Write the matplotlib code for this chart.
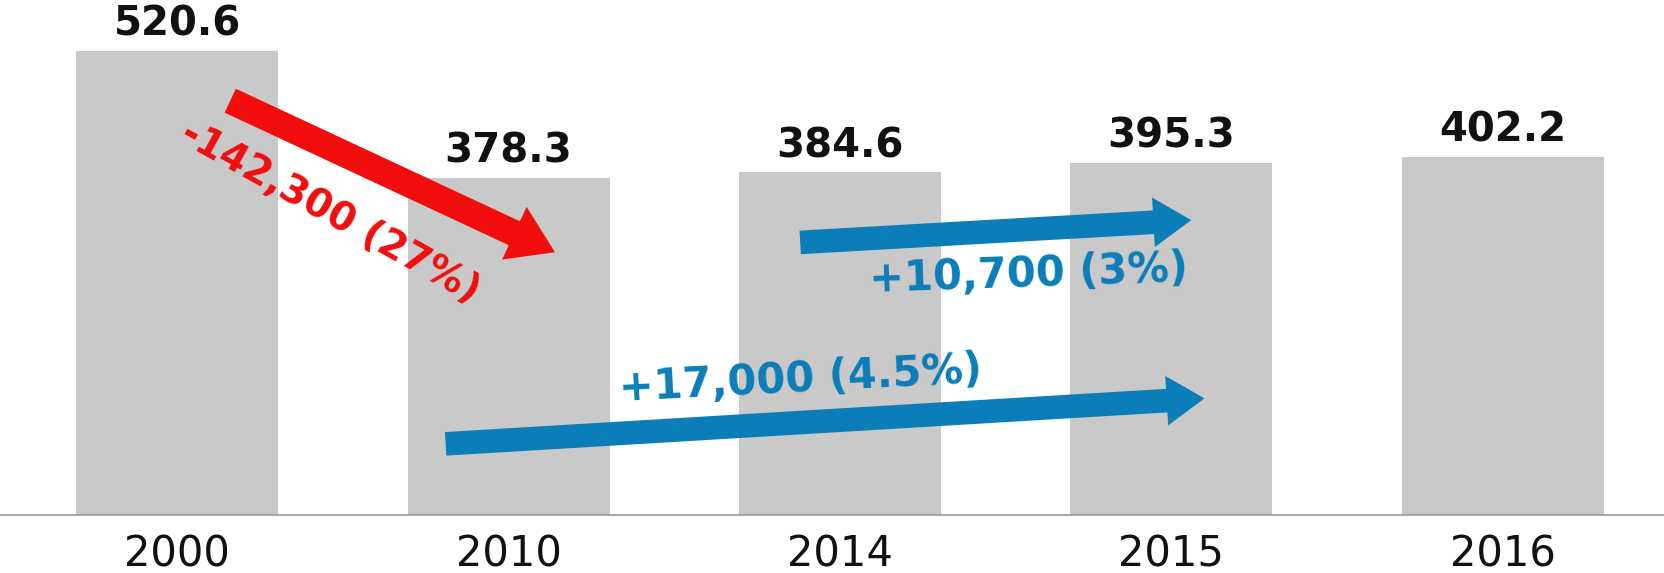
import numpy as np
import matplotlib.pyplot as plt

plt.rcParams['font.family'] = ['DejaVu Sans']

years = ['2000', '2010', '2014', '2015', '2016']
values = [520.6, 378.3, 384.6, 395.3, 402.2]
value_labels = ['520.6', '378.3', '384.6', '395.3', '402.2']

# change arrows: (tail x, tail y, tip x, tip y) in data units, label
red_arrow = (0.16, 465, 1.14, 295)
red_label = '-142,300 (27%)'
long_arrow = (0.81, 80, 3.10, 131)
long_label = '+17,000 (4.5%)'
short_arrow = (1.88, 306, 3.06, 331)
short_label = '+10,700 (3%)'

bar_color = '#c9c9c9'
red = '#f20d0d'
blue = '#0b7db8'

fig = plt.figure(figsize=(16.65, 5.73), dpi=100)
ax = fig.add_axes([0, 0.101, 1, 0.899])

x = np.arange(len(years))
ax.bar(x, values, width=0.61, color=bar_color, zorder=1)

for xi, v, lab in zip(x, values, value_labels):
    ax.annotate(lab, (xi, v), xytext=(0, 11), textcoords='offset points',
                ha='center', va='baseline', fontsize=29, fontweight='bold',
                color='#111111')

ax.set_xlim(-0.535, 4.49)
ax.set_ylim(0, 578)
ax.set_xticks(x)
ax.set_xticklabels(years, fontsize=30, color='#111111')
ax.tick_params(axis='x', length=0, pad=13)
ax.set_yticks([])
for s in ['top', 'left', 'right']:
    ax.spines[s].set_visible(False)
ax.spines['bottom'].set_color('#999999')
ax.spines['bottom'].set_linewidth(1.2)


def draw_arrow(a, color, tw, hw, hl, scale):
    style = 'simple,tail_width=%s,head_width=%s,head_length=%s' % (tw, hw, hl)
    ax.annotate('', xy=(a[2], a[3]), xytext=(a[0], a[1]),
                arrowprops=dict(arrowstyle=style, color=color, lw=0,
                                mutation_scale=scale, shrinkA=0, shrinkB=0),
                zorder=3)


draw_arrow(red_arrow, red, 1.0, 2.2, 1.7, 19)
draw_arrow(long_arrow, blue, 1.0, 2.1, 1.6, 17)
draw_arrow(short_arrow, blue, 1.0, 2.1, 1.6, 17)

ax.text(0.46, 340, red_label, rotation=-29, rotation_mode='anchor',
        ha='center', va='center', fontsize=28, fontweight='bold', color=red)
ax.text(1.88, 152, long_label, rotation=3, rotation_mode='anchor',
        ha='center', va='center', fontsize=30, fontweight='bold', color=blue)
ax.text(2.57, 270, short_label, rotation=2, rotation_mode='anchor',
        ha='center', va='center', fontsize=30, fontweight='bold', color=blue)

fig.savefig('out.png', dpi=100)
